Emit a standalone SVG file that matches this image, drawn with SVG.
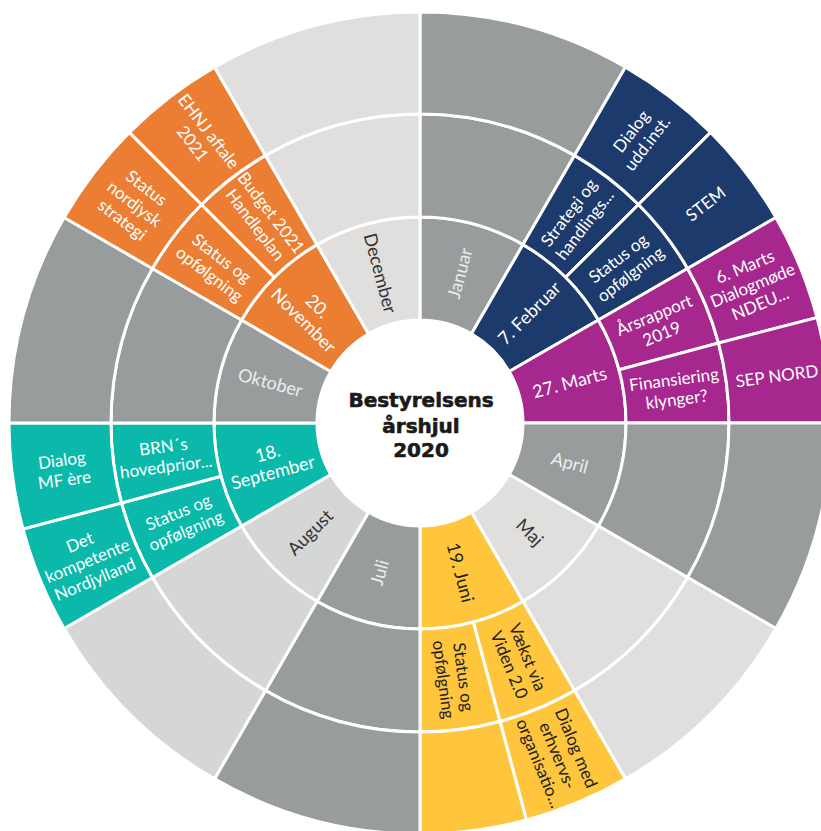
<svg xmlns="http://www.w3.org/2000/svg" width="821" height="831" viewBox="0 0 821 831">
<style>
path{stroke:#fff;stroke-width:3;stroke-linejoin:miter}
.dg{fill:#999c9c}.lg{fill:#e0dfde}.lg2{fill:#d5d6d6}
.or{fill:#ec7e33}.nv{fill:#1c3a6b}.mg{fill:#a6288e}.tl{fill:#0bb9aa}.ye{fill:#ffc53d}
text{font-family:Lato,"Open Sans","Liberation Sans",sans-serif;font-size:17px;text-anchor:middle}
.m{font-size:18px}
.w{fill:#fff}.lt{fill:#ececec}.dk{fill:#333}.bk{fill:#222}
.title{font-family:"DejaVu Sans",Lato,sans-serif;font-weight:700;font-size:20px;fill:#1a1a1a;stroke:#1a1a1a;stroke-width:0.6}
</style>
<rect width="821" height="831" fill="#fff"/>
<g id="januar">
<path class="dg" d="M420,217 A206,206 0 0 1 523,244.6 L471.5,333.8 A103,103 0 0 0 420,320Z"/>
<path class="dg" d="M420,114 A309,309 0 0 1 574.5,155.4 L523,244.6 A206,206 0 0 0 420,217Z"/>
<path class="dg" d="M420,12 A411,411 0 0 1 625.5,67.1 L574.5,155.4 A309,309 0 0 0 420,114Z"/>
<text class="m lt" transform="translate(460.1,273.3) rotate(-75)"><tspan x="0" y="6">Januar</tspan></text>
</g>
<g id="februar">
<path class="nv" d="M523,244.6 A206,206 0 0 1 598.4,320 L509.2,371.5 A103,103 0 0 0 471.5,333.8Z"/>
<path class="nv" d="M574.5,155.4 A309,309 0 0 1 638.5,204.5 L565.7,277.3 A206,206 0 0 0 523,244.6Z"/>
<path class="nv" d="M638.5,204.5 A309,309 0 0 1 687.6,268.5 L598.4,320 A206,206 0 0 0 565.7,277.3Z"/>
<path class="nv" d="M625.5,67.1 A411,411 0 0 1 710.6,132.4 L638.5,204.5 A309,309 0 0 0 574.5,155.4Z"/>
<path class="nv" d="M710.6,132.4 A411,411 0 0 1 775.9,217.5 L687.6,268.5 A309,309 0 0 0 638.5,204.5Z"/>
<text class="m w" transform="translate(529.6,313.4) rotate(-45)"><tspan x="0" y="6">7. Februar</tspan></text>
<text class="w" transform="translate(576.8,218.7) rotate(-52.5)"><tspan x="0" y="-4">Strategi og</tspan><tspan x="0" y="16">handlings...</tspan></text>
<text class="w" transform="translate(624.3,266.2) rotate(-37.5)"><tspan x="0" y="-4">Status og</tspan><tspan x="0" y="16">opfølgning</tspan></text>
<text class="w" transform="translate(639.2,137.4) rotate(-52.5)"><tspan x="0" y="-4">Dialog</tspan><tspan x="0" y="16">udd.inst.</tspan></text>
<text class="w" transform="translate(705.6,203.8) rotate(-37.5)"><tspan x="0" y="6">STEM</tspan></text>
</g>
<g id="marts">
<path class="mg" d="M598.4,320 A206,206 0 0 1 626,423 L523,423 A103,103 0 0 0 509.2,371.5Z"/>
<path class="mg" d="M687.6,268.5 A309,309 0 0 1 718.5,343 L619,369.7 A206,206 0 0 0 598.4,320Z"/>
<path class="mg" d="M718.5,343 A309,309 0 0 1 729,423 L626,423 A206,206 0 0 0 619,369.7Z"/>
<path class="mg" d="M775.9,217.5 A411,411 0 0 1 817,317.6 L718.5,343 A309,309 0 0 0 687.6,268.5Z"/>
<path class="mg" d="M817,317.6 A411,411 0 0 1 831,423 L729,423 A309,309 0 0 0 718.5,343Z"/>
<text class="m w" transform="translate(569.7,382.9) rotate(-15)"><tspan x="0" y="6">27. Marts</tspan></text>
<text class="w" transform="translate(657.9,324.5) rotate(-22.5)"><tspan x="0" y="-4">Årsrapport</tspan><tspan x="0" y="16">2019</tspan></text>
<text class="w" transform="translate(675.3,389.4) rotate(-7.5)"><tspan x="0" y="-4">Finansiering</tspan><tspan x="0" y="16">klynger?</tspan></text>
<text class="w" transform="translate(752.6,285.2) rotate(-22.5)"><tspan x="0" y="-14">6. Marts</tspan><tspan x="0" y="6">Dialogmøde</tspan><tspan x="0" y="26">NDEU...</tspan></text>
<text class="w" transform="translate(776.9,376) rotate(-7.5)"><tspan x="0" y="6">SEP NORD</tspan></text>
</g>
<g id="april">
<path class="dg" d="M626,423 A206,206 0 0 1 598.4,526 L509.2,474.5 A103,103 0 0 0 523,423Z"/>
<path class="dg" d="M729,423 A309,309 0 0 1 687.6,577.5 L598.4,526 A206,206 0 0 0 626,423Z"/>
<path class="dg" d="M831,423 A411,411 0 0 1 775.9,628.5 L687.6,577.5 A309,309 0 0 0 729,423Z"/>
<text class="m lt" transform="translate(569.7,463.1) rotate(15)"><tspan x="0" y="6">April</tspan></text>
</g>
<g id="maj">
<path class="lg" d="M598.4,526 A206,206 0 0 1 523,601.4 L471.5,512.2 A103,103 0 0 0 509.2,474.5Z"/>
<path class="lg" d="M687.6,577.5 A309,309 0 0 1 574.5,690.6 L523,601.4 A206,206 0 0 0 598.4,526Z"/>
<path class="lg" d="M775.9,628.5 A411,411 0 0 1 625.5,778.9 L574.5,690.6 A309,309 0 0 0 687.6,577.5Z"/>
<text class="m dk" transform="translate(529.6,532.6) rotate(45)"><tspan x="0" y="6">Maj</tspan></text>
</g>
<g id="juni">
<path class="ye" d="M523,601.4 A206,206 0 0 1 420,629 L420,526 A103,103 0 0 0 471.5,512.2Z"/>
<path class="ye" d="M574.5,690.6 A309,309 0 0 1 500,721.5 L473.3,622 A206,206 0 0 0 523,601.4Z"/>
<path class="ye" d="M500,721.5 A309,309 0 0 1 420,732 L420,629 A206,206 0 0 0 473.3,622Z"/>
<path class="ye" d="M625.5,778.9 A411,411 0 0 1 526.4,820 L500,721.5 A309,309 0 0 0 574.5,690.6Z"/>
<path class="ye" d="M526.4,820 A411,411 0 0 1 420,834 L420,732 A309,309 0 0 0 500,721.5Z"/>
<text class="m bk" transform="translate(460.1,572.7) rotate(75)"><tspan x="0" y="6">19. Juni</tspan></text>
<text class="bk" transform="translate(518.5,660.9) rotate(67.5)"><tspan x="0" y="-4">Vækst via</tspan><tspan x="0" y="16">Viden 2.0</tspan></text>
<text class="bk" transform="translate(453.6,678.3) rotate(82.5)"><tspan x="0" y="-4">Status og</tspan><tspan x="0" y="16">opfølgning</tspan></text>
<text class="bk" transform="translate(557.8,755.6) rotate(67.5)"><tspan x="0" y="-14">Dialog med</tspan><tspan x="0" y="6">erhvervs-</tspan><tspan x="0" y="26">organisatio...</tspan></text>
</g>
<g id="juli">
<path class="dg" d="M420,629 A206,206 0 0 1 317,601.4 L368.5,512.2 A103,103 0 0 0 420,526Z"/>
<path class="dg" d="M420,732 A309,309 0 0 1 265.5,690.6 L317,601.4 A206,206 0 0 0 420,629Z"/>
<path class="dg" d="M420,834 A411,411 0 0 1 214.5,778.9 L265.5,690.6 A309,309 0 0 0 420,732Z"/>
<text class="m lt" transform="translate(379.9,572.7) rotate(-75)"><tspan x="0" y="6">Juli</tspan></text>
</g>
<g id="august">
<path class="lg2" d="M317,601.4 A206,206 0 0 1 241.6,526 L330.8,474.5 A103,103 0 0 0 368.5,512.2Z"/>
<path class="lg2" d="M265.5,690.6 A309,309 0 0 1 152.4,577.5 L241.6,526 A206,206 0 0 0 317,601.4Z"/>
<path class="lg2" d="M214.5,778.9 A411,411 0 0 1 64.1,628.5 L152.4,577.5 A309,309 0 0 0 265.5,690.6Z"/>
<text class="m dk" transform="translate(310.4,532.6) rotate(-45)"><tspan x="0" y="6">August</tspan></text>
</g>
<g id="september">
<path class="tl" d="M241.6,526 A206,206 0 0 1 214,423 L317,423 A103,103 0 0 0 330.8,474.5Z"/>
<path class="tl" d="M152.4,577.5 A309,309 0 0 1 121.5,503 L221,476.3 A206,206 0 0 0 241.6,526Z"/>
<path class="tl" d="M121.5,503 A309,309 0 0 1 111,423 L214,423 A206,206 0 0 0 221,476.3Z"/>
<path class="tl" d="M64.1,628.5 A411,411 0 0 1 23,529 L121.5,503 A309,309 0 0 0 152.4,577.5Z"/>
<path class="tl" d="M23,529 A411,411 0 0 1 9,423 L111,423 A309,309 0 0 0 121.5,503Z"/>
<text class="m w" transform="translate(270.3,463.1) rotate(-15)"><tspan x="0" y="-4">18.</tspan><tspan x="0" y="16">September</tspan></text>
<text class="w" transform="translate(182.1,521.5) rotate(-22.5)"><tspan x="0" y="-4">Status og</tspan><tspan x="0" y="16">opfølgning</tspan></text>
<text class="w" transform="translate(164.7,456.6) rotate(-7.5)"><tspan x="0" y="-4">BRN´s</tspan><tspan x="0" y="16">hovedprior...</tspan></text>
<text class="w" transform="translate(87.4,560.8) rotate(-22.5)"><tspan x="0" y="-14">Det</tspan><tspan x="0" y="6">kompetente</tspan><tspan x="0" y="26">Nordjylland</tspan></text>
<text class="w" transform="translate(63.1,470) rotate(-7.5)"><tspan x="0" y="-4">Dialog</tspan><tspan x="0" y="16">MF ère</tspan></text>
</g>
<g id="oktober">
<path class="dg" d="M214,423 A206,206 0 0 1 241.6,320 L330.8,371.5 A103,103 0 0 0 317,423Z"/>
<path class="dg" d="M111,423 A309,309 0 0 1 152.4,268.5 L241.6,320 A206,206 0 0 0 214,423Z"/>
<path class="dg" d="M9,423 A411,411 0 0 1 64.1,217.5 L152.4,268.5 A309,309 0 0 0 111,423Z"/>
<text class="m lt" transform="translate(270.3,382.9) rotate(15)"><tspan x="0" y="6">Oktober</tspan></text>
</g>
<g id="november">
<path class="or" d="M241.6,320 A206,206 0 0 1 317,244.6 L368.5,333.8 A103,103 0 0 0 330.8,371.5Z"/>
<path class="or" d="M152.4,268.5 A309,309 0 0 1 201.5,204.5 L274.3,277.3 A206,206 0 0 0 241.6,320Z"/>
<path class="or" d="M201.5,204.5 A309,309 0 0 1 265.5,155.4 L317,244.6 A206,206 0 0 0 274.3,277.3Z"/>
<path class="or" d="M64.1,217.5 A411,411 0 0 1 129.4,132.4 L201.5,204.5 A309,309 0 0 0 152.4,268.5Z"/>
<path class="or" d="M129.4,132.4 A411,411 0 0 1 214.5,67.1 L265.5,155.4 A309,309 0 0 0 201.5,204.5Z"/>
<text class="m w" transform="translate(310.4,313.4) rotate(45)"><tspan x="0" y="-4">20.</tspan><tspan x="0" y="16">November</tspan></text>
<text class="w" transform="translate(215.7,266.2) rotate(37.5)"><tspan x="0" y="-4">Status og</tspan><tspan x="0" y="16">opfølgning</tspan></text>
<text class="w" transform="translate(263.2,218.7) rotate(52.5)"><tspan x="0" y="-4">Budget 2021</tspan><tspan x="0" y="16">Handleplan</tspan></text>
<text class="w" transform="translate(134.4,203.8) rotate(37.5)"><tspan x="0" y="-14">Status</tspan><tspan x="0" y="6">nordjysk</tspan><tspan x="0" y="26">strategi</tspan></text>
<text class="w" transform="translate(200.8,137.4) rotate(52.5)"><tspan x="0" y="-4">EHNJ aftale</tspan><tspan x="0" y="16">2021</tspan></text>
</g>
<g id="december">
<path class="lg" d="M317,244.6 A206,206 0 0 1 420,217 L420,320 A103,103 0 0 0 368.5,333.8Z"/>
<path class="lg" d="M265.5,155.4 A309,309 0 0 1 420,114 L420,217 A206,206 0 0 0 317,244.6Z"/>
<path class="lg" d="M214.5,67.1 A411,411 0 0 1 420,12 L420,114 A309,309 0 0 0 265.5,155.4Z"/>
<text class="m dk" transform="translate(379.9,273.3) rotate(75)"><tspan x="0" y="6">December</tspan></text>
</g>
<g id="center">
<circle cx="420" cy="423" r="102" fill="#fff"/>
<text class="title"><tspan x="421" y="407">Bestyrelsens</tspan><tspan x="421" y="433">årshjul</tspan><tspan x="421" y="457">2020</tspan></text>
</g>
</svg>
